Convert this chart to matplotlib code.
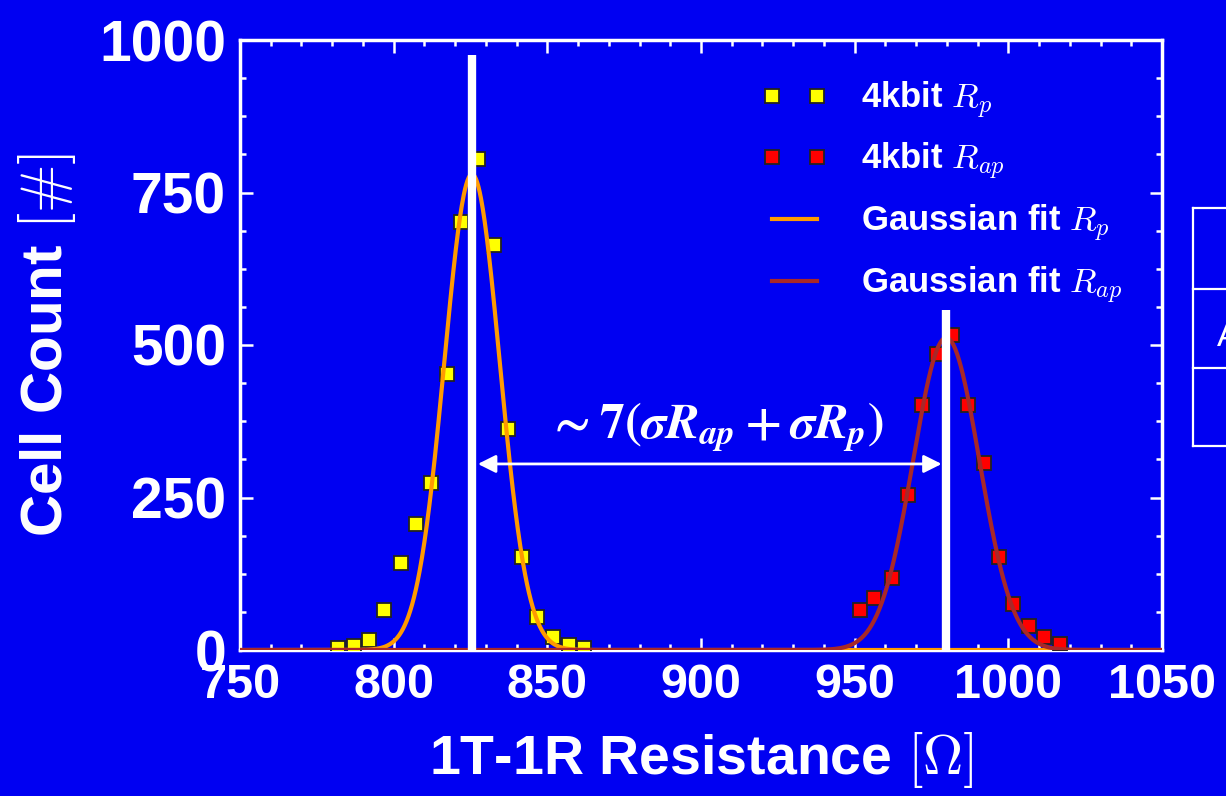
import numpy as np
import matplotlib
matplotlib.use("Agg")
import matplotlib.pyplot as plt
from matplotlib import font_manager as fm
from matplotlib.font_manager import FontProperties
from matplotlib.lines import Line2D
from matplotlib.ticker import MultipleLocator

# ---------------- data ----------------
rp_resistance = [782, 787, 792, 797, 802.4, 807.3, 812.2, 817.3, 822, 827.4,
                 832.6, 837.2, 841.6, 846.8, 852, 857.2, 862]
rp_count = [3, 6, 16, 66, 143, 207, 274, 452, 701, 805,
            664, 362, 152, 54, 21, 8, 3]

rap_resistance = [951.7, 956.3, 962.2, 967.2, 971.8, 976.9, 981.6, 987,
                  992.1, 997, 1001.6, 1006.8, 1011.6, 1016.8]
rap_count = [65, 86, 118, 254, 402, 486, 517, 402,
             306, 153, 75, 40, 21, 10]

# Gaussian fit parameters (mean, sigma, amplitude)
rp_fit = (825.5, 9.0, 780)
rap_fit = (979.8, 10.8, 512)

# heights of the white marker lines at the fit means
rp_line_top = 975
rap_line_top = 558

x_ticks = [750, 800, 850, 900, 950, 1000, 1050]
y_ticks = [0, 250, 500, 750, 1000]

legend_labels = [r"4kbit $R_p$", r"4kbit $R_{ap}$",
                 r"Gaussian fit $R_p$", r"Gaussian fit $R_{ap}$"]

# ---------------- style ----------------
BLUE = "#0000F2"
plt.rcParams["font.family"] = ["Liberation Sans", "DejaVu Sans"]
plt.rcParams["font.weight"] = "bold"
plt.rcParams["axes.labelweight"] = "bold"
plt.rcParams["mathtext.fontset"] = "cm"

names = {f.name for f in fm.fontManager.ttflist}
if "Liberation Sans Narrow" in names:
    xtick_fp = FontProperties(family="Liberation Sans Narrow", weight="bold", size=42)
else:
    xtick_fp = FontProperties(family="Liberation Sans", weight="bold", size=35)

W, H = 1226, 796
fig = plt.figure(figsize=(W / 100, H / 100), dpi=100)
fig.patch.set_facecolor(BLUE)
ax = fig.add_axes([240 / W, 146 / H, 922 / W, 610 / H])
ax.set_facecolor(BLUE)


def gauss(x, p):
    mu, s, a = p
    return a * np.exp(-(x - mu) ** 2 / (2 * s ** 2))


xx = np.linspace(750, 1050, 1501)

h1, = ax.plot(rp_resistance, rp_count, ls="none", marker="s", ms=9.5,
              mfc="#FFFF00", mec="#222222", mew=1.3, zorder=3)
h2, = ax.plot(rap_resistance, rap_count, ls="none", marker="s", ms=9.5,
              mfc="#FF0000", mec="#222222", mew=1.3, zorder=3)
h3, = ax.plot(xx, gauss(xx, rp_fit), color="#FF9A00", lw=3, zorder=4)
h4, = ax.plot(xx, gauss(xx, rap_fit), color="#A82828", lw=3, zorder=4.1)

ax.plot([rp_fit[0], rp_fit[0]], [0, rp_line_top], color="white", lw=6,
        solid_capstyle="butt", zorder=5)
ax.plot([rap_fit[0], rap_fit[0]], [0, rap_line_top], color="white", lw=6,
        solid_capstyle="butt", zorder=5)

ax.annotate("", xy=(rp_fit[0] + 1.9, 305), xytext=(rap_fit[0] - 1.5, 305),
            arrowprops=dict(arrowstyle="<|-|>", color="white", lw=2,
                            mutation_scale=27, shrinkA=0, shrinkB=0),
            zorder=6)
ax.text(904.5, 348,
        r"$\boldsymbol{\sim 7}(\boldsymbol{\sigma R_{ap}} + \boldsymbol{\sigma R_{p}})$",
        color="white", fontsize=36, ha="center", va="baseline",
        math_fontfamily="stix", zorder=6)

ax.set_xlim(750, 1050)
ax.set_ylim(0, 1000)
ax.set_xticks(x_ticks, [str(v) for v in x_ticks], fontproperties=xtick_fp)
ax.set_yticks(y_ticks, [str(v) for v in y_ticks], fontsize=41)
ax.xaxis.set_minor_locator(MultipleLocator(10))
ax.yaxis.set_minor_locator(MultipleLocator(62.5))
ax.tick_params(which="both", direction="in", top=True, right=True,
               color="white", width=1.8, labelcolor="white")
ax.tick_params(which="major", length=9)
ax.tick_params(which="minor", length=4.5)
ax.tick_params(axis="y", pad=10)
ax.tick_params(axis="x", pad=9)
for s in ax.spines.values():
    s.set_color("white")
    s.set_linewidth(2.5)

ax.set_xlabel(r"1T-1R Resistance $[\Omega]$", color="white", fontsize=40,
              fontweight="bold", labelpad=16)
ax.set_ylabel(r"Cell Count $[\#]$", color="white", fontsize=42,
              fontweight="bold", labelpad=15)

leg = ax.legend([h1, h2, h3, h4], legend_labels, loc="upper left",
                bbox_to_anchor=(0.566, 0.935), frameon=False, borderpad=0,
                borderaxespad=0, handlelength=1.9, handletextpad=0.95,
                labelspacing=0.6, numpoints=2,
                prop=dict(family="Liberation Sans", weight="bold", size=25))
for t in leg.get_texts():
    t.set_color("white")


# partially visible table at the right edge
def fx(px):
    return px / W


def fy(py):
    return 1 - py / H


tbl_left, tbl_right = 1193, 1240
tbl_rows = [208, 289, 368, 446]
fig.add_artist(Line2D([fx(tbl_left)] * 2, [fy(tbl_rows[0]), fy(tbl_rows[-1])],
                      transform=fig.transFigure, color="white", lw=1.6))
for r in tbl_rows:
    fig.add_artist(Line2D([fx(tbl_left), fx(tbl_right)], [fy(r), fy(r)],
                          transform=fig.transFigure, color="white", lw=1.6))
fig.text(fx(1217), fy(337), "A", color="white", fontsize=24,
         fontweight="normal", ha="left", va="center")

fig.savefig("out.png", dpi=100, facecolor=fig.get_facecolor())
